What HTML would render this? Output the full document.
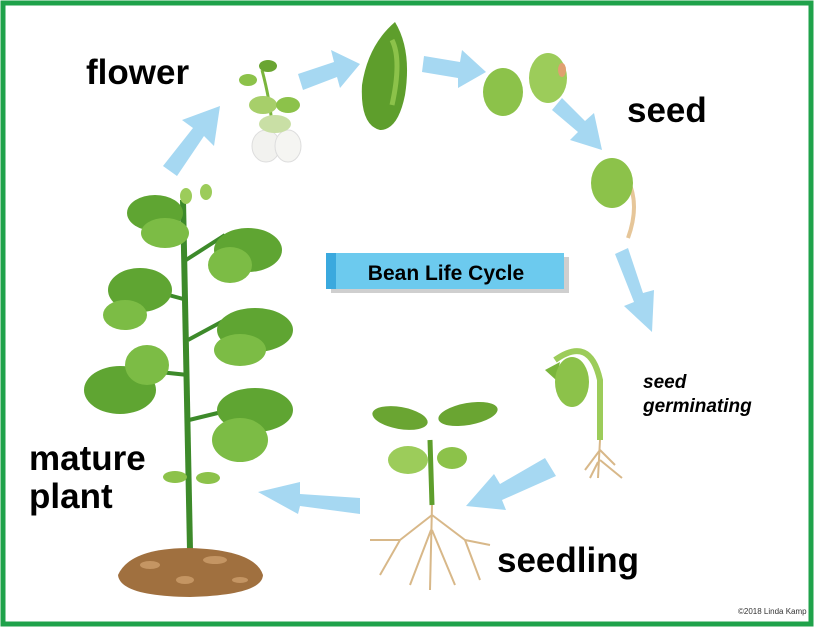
<!DOCTYPE html>
<html><head><meta charset="utf-8"><style>
html,body{margin:0;padding:0;background:#fff}
svg{display:block}
.lbl{font-family:"Liberation Sans",sans-serif;font-weight:bold;fill:#000}
</style></head><body>
<svg width="814" height="627" viewBox="0 0 814 627" xmlns="http://www.w3.org/2000/svg">
<rect x="0" y="0" width="814" height="627" fill="#fff"/>
<rect x="3" y="3" width="808" height="621" fill="none" stroke="#1fa24a" stroke-width="5"/>

<!-- arrows -->
<g fill="#a6d8f2">
<path d="M163,166 L193,128 L182,120 L220,106 L214,146 L204,136 L177,176 Z"/>
<path d="M298,74 L334,62 L331,50 L360,64 L340,88 L337,77 L303,90 Z"/>
<path d="M424,56 L460,62 L462,50 L486,72 L458,88 L458,78 L422,72 Z"/>
<path d="M562,98 L585,121 L594,113 L602,150 L570,140 L578,132 L552,110 Z"/>
<path d="M628,248 L643,293 L654,290 L652,332 L624,306 L634,302 L615,254 Z"/>
<path d="M545,458 L500,484 L494,474 L466,506 L506,510 L502,500 L556,476 Z"/>
<path d="M360,498 L300,494 L300,482 L258,492 L298,514 L300,506 L360,514 Z"/>
</g>

<!-- title -->
<rect x="331" y="257" width="238" height="36" fill="#a0a0a0" opacity="0.5"/>
<rect x="326" y="253" width="238" height="36" fill="#6ccaee"/>
<rect x="326" y="253" width="10" height="36" fill="#3aa9de"/>
<text x="446" y="280" text-anchor="middle" class="lbl" font-size="21">Bean Life Cycle</text>

<!-- labels -->
<text x="86" y="84" class="lbl" font-size="35">flower</text>
<text x="627" y="122" class="lbl" font-size="35">seed</text>
<text x="643" y="388" class="lbl" font-size="19" font-style="italic">seed</text>
<text x="643" y="412" class="lbl" font-size="19" font-style="italic">germinating</text>
<text x="29" y="470" class="lbl" font-size="35">mature</text>
<text x="29" y="508" class="lbl" font-size="35">plant</text>
<text x="497" y="572" class="lbl" font-size="35">seedling</text>
<text x="738" y="614" font-family="Liberation Sans,sans-serif" font-size="8" fill="#333">©2018 Linda Kamp</text>

<!-- flower -->
<g>
<path d="M262,70 Q270,100 272,125" stroke="#7ab53c" stroke-width="3" fill="none"/>
<ellipse cx="248" cy="80" rx="9" ry="6" fill="#8cc24a"/>
<ellipse cx="268" cy="66" rx="9" ry="6" fill="#6aa532"/>
<ellipse cx="263" cy="105" rx="14" ry="9" fill="#a7cf6a"/>
<ellipse cx="288" cy="105" rx="12" ry="8" fill="#8cc24a"/>
<ellipse cx="266" cy="146" rx="14" ry="16" fill="#f2f2ef" stroke="#ddd"/>
<ellipse cx="288" cy="146" rx="13" ry="16" fill="#f5f5f2" stroke="#ddd"/>
<ellipse cx="275" cy="124" rx="16" ry="9" fill="#c9dfa5"/>
</g>
<!-- pod -->
<path d="M395,22 Q412,50 405,95 Q398,130 380,130 Q360,125 362,85 Q368,45 395,22 Z" fill="#5e9e2c"/>
<path d="M392,40 Q402,60 392,105" stroke="#8cc24a" stroke-width="5" fill="none"/>
<!-- seeds -->
<ellipse cx="503" cy="92" rx="20" ry="24" fill="#8cc24a"/>
<ellipse cx="548" cy="78" rx="19" ry="25" fill="#9ccc5a"/>
<ellipse cx="562" cy="70" rx="4" ry="7" fill="#e0a070"/>
<!-- sprouting seed -->
<path d="M628,180 Q640,205 628,238" stroke="#e6c699" stroke-width="4" fill="none"/>
<ellipse cx="612" cy="183" rx="21" ry="25" fill="#8cc24a"/>
<!-- germinating -->
<path d="M555,360 Q590,335 600,380 L600,440" stroke="#9ccc5a" stroke-width="6" fill="none"/>
<g stroke="#d8b889" stroke-width="2" fill="none">
<path d="M600,440 L598,478 M600,450 L585,470 M600,450 L615,465 M598,462 L590,478 M600,460 L622,478"/>
</g>
<path d="M545,370 L560,362 L556,380 Z" fill="#7ab53c"/>
<ellipse cx="572" cy="382" rx="17" ry="25" fill="#8cc24a"/>
<!-- seedling -->
<path d="M430,440 L432,505" stroke="#5e9e2c" stroke-width="5"/>
<ellipse cx="400" cy="418" rx="28" ry="11" fill="#6aa532" transform="rotate(10 400 418)"/>
<ellipse cx="468" cy="414" rx="30" ry="11" fill="#6aa532" transform="rotate(-10 468 414)"/>
<ellipse cx="408" cy="460" rx="20" ry="14" fill="#9ccc5a"/>
<ellipse cx="452" cy="458" rx="15" ry="11" fill="#8cc24a"/>
<g stroke="#d8b889" stroke-width="2" fill="none">
<path d="M432,505 L430,590 M432,515 L400,540 L380,575 M432,515 L465,540 L480,580 M431,530 L410,585 M432,530 L455,585 M400,540 L370,540 M465,540 L490,545"/>
</g>
<!-- mature plant -->
<path d="M183,200 L190,550" stroke="#3d8a2a" stroke-width="6" fill="none"/>
<path d="M186,240 L160,215 M186,260 L225,235 M187,300 L150,290 M188,340 L225,320 M188,375 L140,370 M189,420 L230,410" stroke="#3d8a2a" stroke-width="4"/>
<g fill="#5fa532">
<ellipse cx="155" cy="213" rx="28" ry="18"/>
<ellipse cx="165" cy="233" rx="24" ry="15" fill="#7cbc45"/>
<ellipse cx="248" cy="250" rx="34" ry="22"/>
<ellipse cx="230" cy="265" rx="22" ry="18" fill="#7cbc45"/>
<ellipse cx="140" cy="290" rx="32" ry="22"/>
<ellipse cx="125" cy="315" rx="22" ry="15" fill="#7cbc45"/>
<ellipse cx="255" cy="330" rx="38" ry="22"/>
<ellipse cx="240" cy="350" rx="26" ry="16" fill="#7cbc45"/>
<ellipse cx="120" cy="390" rx="36" ry="24"/>
<ellipse cx="147" cy="365" rx="22" ry="20" fill="#7cbc45"/>
<ellipse cx="255" cy="410" rx="38" ry="22"/>
<ellipse cx="240" cy="440" rx="28" ry="22" fill="#7cbc45"/>
<ellipse cx="175" cy="477" rx="12" ry="6" fill="#8cc24a"/>
<ellipse cx="208" cy="478" rx="12" ry="6" fill="#8cc24a"/>
<ellipse cx="186" cy="196" rx="6" ry="8" fill="#9ccc5a"/>
<ellipse cx="206" cy="192" rx="6" ry="8" fill="#9ccc5a"/>
</g>
<path d="M118,575 Q130,548 190,548 Q255,550 263,575 Q262,595 190,597 Q120,596 118,575 Z" fill="#a0703f"/>
<g fill="#c49563">
<ellipse cx="150" cy="565" rx="10" ry="4"/><ellipse cx="215" cy="560" rx="12" ry="4"/>
<ellipse cx="185" cy="580" rx="9" ry="4"/><ellipse cx="240" cy="580" rx="8" ry="3"/>
</g>
</svg>
</body></html>
